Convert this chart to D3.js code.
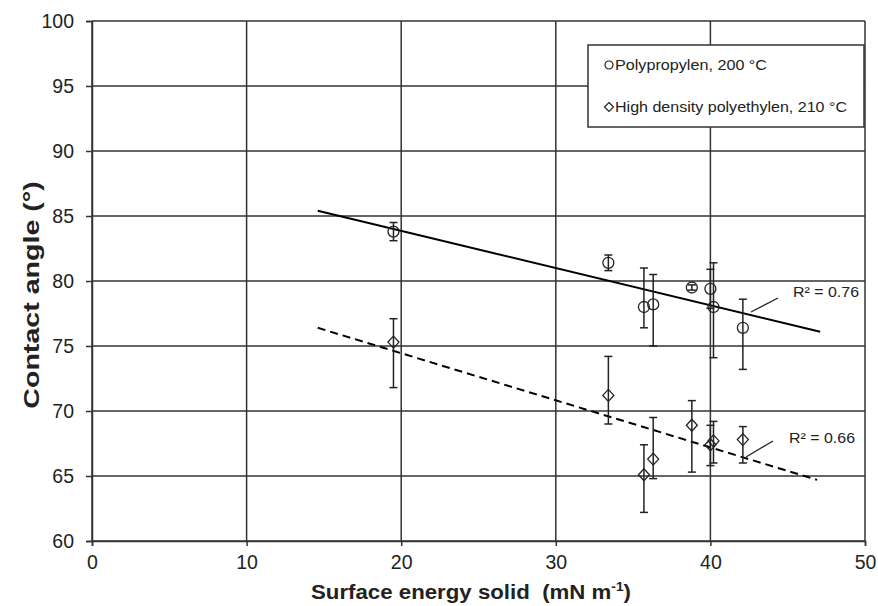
<!DOCTYPE html>
<html>
<head>
<meta charset="utf-8">
<script src="https://cdn.jsdelivr.net/npm/d3@7"></script>
<style>
  body { margin: 0; background: #fff; }
  svg { display: block; font-family: "Liberation Sans", Arial, sans-serif; }
  text { white-space: pre; }
</style>
</head>
<body>
<svg width="878" height="606"></svg>
<script>
// tick values
const xTicks = [0, 10, 20, 30, 40, 50];
const yTicks = [60, 65, 70, 75, 80, 85, 90, 95, 100];

// Polypropylen, 200 °C
const ppX = [19.5, 33.4, 35.7, 36.3, 38.8, 40.0, 40.2, 42.1];
const ppY = [83.8, 81.4, 78.0, 78.2, 79.5, 79.4, 78.0, 76.4];
const ppHi = [84.5, 82.0, 81.0, 80.5, 79.7, 80.9, 81.4, 78.6];
const ppLo = [83.1, 80.8, 76.4, 75.0, 79.3, 77.9, 74.1, 73.2];
const ppTrend = [[14.6, 85.4], [47.1, 76.1]];

// High density polyethylen, 210 °C
const hdX = [19.5, 33.4, 35.7, 36.3, 38.8, 40.0, 40.2, 42.1];
const hdY = [75.3, 71.2, 65.1, 66.3, 68.9, 67.4, 67.7, 67.8];
const hdHi = [77.1, 74.2, 67.4, 69.5, 70.8, 68.9, 69.2, 68.8];
const hdLo = [71.8, 69.0, 62.2, 64.8, 65.3, 65.8, 66.0, 66.0];
const hdTrend = [[14.6, 76.4], [46.9, 64.7]];

const legendLabels = ["Polypropylen, 200 °C", "High density polyethylen, 210 °C"];
const r2Labels = ["R² = 0.76", "R² = 0.66"];

const svg = d3.select("svg");
const ink = "#222";

const x = d3.scaleLinear().domain([0, 50]).range([92, 865]);
const y = d3.scaleLinear().domain([60, 100]).range([541, 21]);

// grid
svg.append("g")
	.selectAll("line")
	.data(yTicks)
	.join("line")
	.attr("x1", x(0))
	.attr("x2", x(50))
	.attr("y1", d => y(d))
	.attr("y2", d => y(d))
	.attr("stroke", "#333")
	.attr("stroke-width", 1.5);

svg.append("g")
	.selectAll("line")
	.data(xTicks)
	.join("line")
	.attr("x1", d => x(d))
	.attr("x2", d => x(d))
	.attr("y1", y(60))
	.attr("y2", y(100))
	.attr("stroke", "#333")
	.attr("stroke-width", 1.5);

// axes
const xAxis = svg.append("g")
	.attr("transform", `translate(0,${y(60)})`)
	.call(d3.axisBottom(x).tickValues(xTicks).tickSize(5).tickPadding(9));
const yAxis = svg.append("g")
	.attr("transform", `translate(${x(0)},0)`)
	.call(d3.axisLeft(y).tickValues(yTicks).tickSize(6).tickPadding(12));

[xAxis, yAxis].forEach(a => {
	a.select(".domain").attr("stroke", "#333").attr("stroke-width", 1.5);
	a.selectAll(".tick line").attr("stroke", "#333").attr("stroke-width", 1.5);
	a.selectAll("text")
		.attr("font-size", 19.5)
		.attr("font-family", "Liberation Sans, Arial, sans-serif")
		.attr("fill", ink);
});

// axis titles
const xTitle = svg.append("text")
	.attr("transform", "translate(471,599) scale(1.06,1)")
	.attr("text-anchor", "middle")
	.attr("font-size", 21)
	.attr("font-weight", "bold")
	.attr("fill", ink);
xTitle.append("tspan").text("Surface energy solid  (mN m");
xTitle.append("tspan").attr("font-size", 13).attr("dy", -8).text("-1");
xTitle.append("tspan").attr("dy", 8).text(")");

svg.append("text")
	.attr("transform", "translate(39,295) rotate(-90) scale(1.3,1)")
	.attr("text-anchor", "middle")
	.attr("font-size", 22)
	.attr("font-weight", "bold")
	.attr("fill", ink)
	.text("Contact angle (°)");

// trend lines
const line = d3.line().x(d => x(d[0])).y(d => y(d[1]));
svg.append("path")
	.attr("d", line(ppTrend))
	.attr("fill", "none")
	.attr("stroke", "#000")
	.attr("stroke-width", 2);
svg.append("path")
	.attr("d", line(hdTrend))
	.attr("fill", "none")
	.attr("stroke", "#000")
	.attr("stroke-width", 2)
	.attr("stroke-dasharray", "8,5");

// error bars and markers
function drawSeries(xs, ys, his, los, shape) {
	const g = svg.append("g");
	const rows = xs.map((v, i) => ({ x: v, y: ys[i], hi: his[i], lo: los[i] }));

	g.selectAll("line.bar")
		.data(rows)
		.join("line")
		.attr("class", "bar")
		.attr("x1", d => x(d.x))
		.attr("x2", d => x(d.x))
		.attr("y1", d => y(d.hi))
		.attr("y2", d => y(d.lo))
		.attr("stroke", ink)
		.attr("stroke-width", 1.5);

	["hi", "lo"].forEach(k => {
		g.selectAll("line.cap-" + k)
			.data(rows)
			.join("line")
			.attr("class", "cap-" + k)
			.attr("x1", d => x(d.x) - 4)
			.attr("x2", d => x(d.x) + 4)
			.attr("y1", d => y(d[k]))
			.attr("y2", d => y(d[k]))
			.attr("stroke", ink)
			.attr("stroke-width", 1.5);
	});

	g.selectAll("path.mark")
		.data(rows)
		.join("path")
		.attr("class", "mark")
		.attr("transform", d => `translate(${x(d.x)},${y(d.y)})`)
		.attr("d", shape)
		.attr("fill", "none")
		.attr("stroke", ink)
		.attr("stroke-width", 1.3);
}

const circleShape = "M5.5,0A5.5,5.5 0 1,1 -5.5,0A5.5,5.5 0 1,1 5.5,0Z";
const diamondShape = "M0,-6L5.5,0L0,6L-5.5,0Z";

drawSeries(ppX, ppY, ppHi, ppLo, circleShape);
drawSeries(hdX, hdY, hdHi, hdLo, diamondShape);

// R² labels with leader lines
const r2 = [
	{ text: r2Labels[0], from: [751, 312], to: [778, 298], tx: 793, ty: 297 },
	{ text: r2Labels[1], from: [746, 457], to: [773, 441], tx: 789, ty: 443 }
];
r2.forEach(d => {
	svg.append("line")
		.attr("x1", d.from[0])
		.attr("y1", d.from[1])
		.attr("x2", d.to[0])
		.attr("y2", d.to[1])
		.attr("stroke", ink)
		.attr("stroke-width", 1.3);
	svg.append("text")
		.attr("x", d.tx)
		.attr("y", d.ty)
		.attr("font-size", 15)
		.attr("textLength", 66)
		.attr("lengthAdjust", "spacingAndGlyphs")
		.attr("fill", ink)
		.text(d.text);
});

// legend
const legend = svg.append("g");
legend.append("rect")
	.attr("x", 588)
	.attr("y", 45)
	.attr("width", 276)
	.attr("height", 82)
	.attr("fill", "#fff")
	.attr("stroke", "#333")
	.attr("stroke-width", 1.5);

const legendShapes = ["M4,0A4,4 0 1,1 -4,0A4,4 0 1,1 4,0Z", "M0,-4.5L4.5,0L0,4.5L-4.5,0Z"];
const legendWidths = [152, 232];
legendLabels.forEach((label, i) => {
	const cy = 65 + i * 42;
	legend.append("path")
		.attr("transform", `translate(609,${cy})`)
		.attr("d", legendShapes[i])
		.attr("fill", "none")
		.attr("stroke", ink)
		.attr("stroke-width", 1.2);
	legend.append("text")
		.attr("x", 615)
		.attr("y", cy + 5)
		.attr("font-size", 15)
		.attr("textLength", legendWidths[i])
		.attr("lengthAdjust", "spacingAndGlyphs")
		.attr("fill", ink)
		.text(label);
});
</script>
</body>
</html>
